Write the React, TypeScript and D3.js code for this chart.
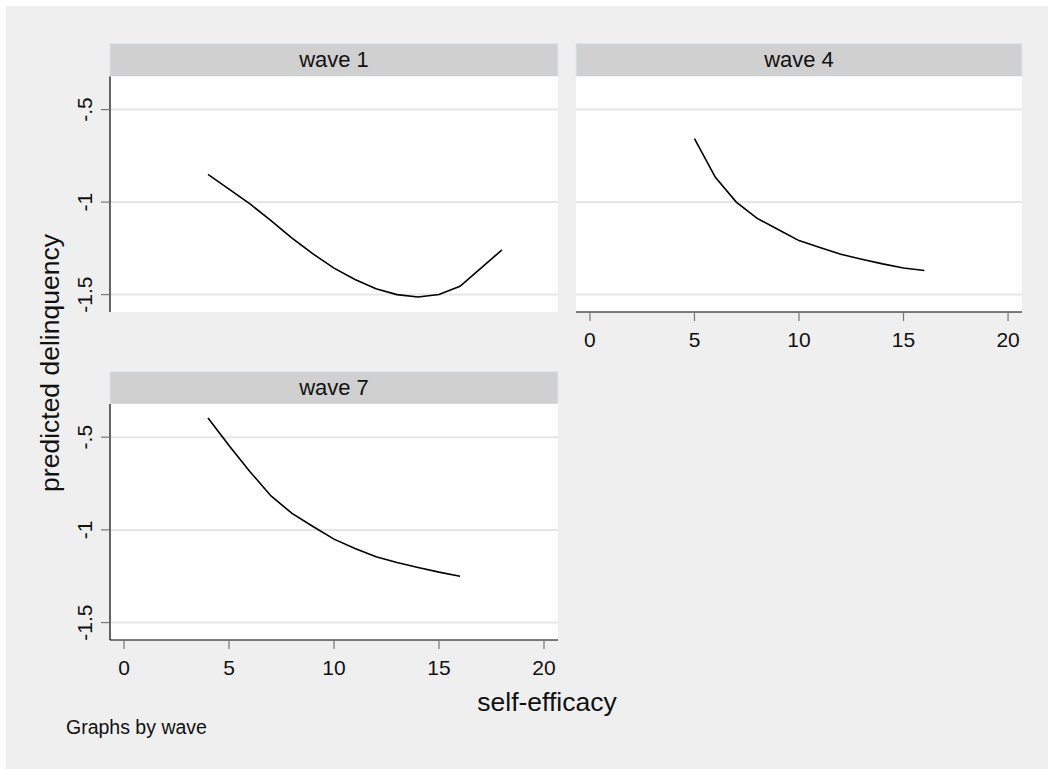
import React from 'react';
import * as d3 from 'd3';

const panelTitles = ['wave 1', 'wave 4', 'wave 7'];
const wave1X = [4, 5, 6, 7, 8, 9, 10, 11, 12, 13, 14, 15, 16, 17, 18];
const wave1Y = [-0.85, -0.93, -1.01, -1.1, -1.195, -1.28, -1.357, -1.418, -1.468, -1.5, -1.513, -1.499, -1.455, -1.357, -1.258];
const wave4X = [5, 6, 7, 8, 9, 10, 11, 12, 13, 14, 15, 16];
const wave4Y = [-0.657, -0.866, -1.0, -1.088, -1.148, -1.208, -1.245, -1.282, -1.309, -1.334, -1.356, -1.37];
const wave7X = [4, 5, 6, 7, 8, 9, 10, 11, 12, 13, 14, 15, 16];
const wave7Y = [-0.397, -0.545, -0.686, -0.817, -0.911, -0.982, -1.05, -1.1, -1.145, -1.176, -1.203, -1.228, -1.25];
const xTicks = [0, 5, 10, 15, 20];
const yTicks = [-1.5, -1, -0.5];
const yTickLabels = ['-1.5', '-1', '-.5'];
const xTitle = 'self-efficacy';
const yTitle = 'predicted delinquency';
const caption = 'Graphs by wave';

const FONT = '"Liberation Sans", Arial, Helvetica, sans-serif';

const layouts = [
  { x0: 110, x1: 558, hTop: 43.5, plotTop: 76.5, plotBottom: 312, showY: true, showX: false },
  { x0: 576, x1: 1022, hTop: 43.5, plotTop: 76.5, plotBottom: 312, showY: false, showX: true },
  { x0: 110, x1: 558, hTop: 371.7, plotTop: 404, plotBottom: 640, showY: true, showX: true },
];

const series = [
  { xs: wave1X, ys: wave1Y },
  { xs: wave4X, ys: wave4Y },
  { xs: wave7X, ys: wave7Y },
];

function Panel({ idx }: { idx: number }) {
  const L = layouts[idx];
  const s = series[idx];
  const x = d3.scaleLinear().domain([-0.667, 20.667]).range([L.x0, L.x1]);
  const y = d3.scaleLinear().domain([-1.594, -0.321]).range([L.plotBottom, L.plotTop]);
  const pts: [number, number][] = s.xs.map((v, i) => [v, s.ys[i]]);
  const line = d3.line<[number, number]>().x(d => x(d[0])).y(d => y(d[1]));
  return (
    <g>
      <rect x={L.x0} y={L.hTop} width={L.x1 - L.x0} height={L.plotTop - L.hTop}
        fill="#d0d0d0" stroke="#dce6ee" strokeWidth={1} />
      <text x={(L.x0 + L.x1) / 2} y={L.hTop + 23.5} textAnchor="middle" fontSize={22} fill="#111">
        {panelTitles[idx]}
      </text>
      <rect x={L.x0} y={L.plotTop} width={L.x1 - L.x0} height={L.plotBottom - L.plotTop} fill="#ffffff" />
      {yTicks.map(t => (
        <line key={'g' + t} x1={L.x0} x2={L.x1} y1={y(t)} y2={y(t)} stroke="#e6e6e6" strokeWidth={2} />
      ))}
      <path d={line(pts) || ''} fill="none" stroke="#000" strokeWidth={1.6} />
      {L.showY && (
        <g>
          <line x1={L.x0} x2={L.x0} y1={L.plotTop} y2={L.plotBottom} stroke="#000" strokeWidth={1.2} />
          {yTicks.map((t, i) => (
            <g key={'y' + t}>
              <line x1={L.x0 - 9} x2={L.x0} y1={y(t)} y2={y(t)} stroke="#777" strokeWidth={1.2} />
              <text transform={`translate(${L.x0 - 18},${y(t)}) rotate(-90)`} textAnchor="middle"
                fontSize={21} fill="#111">{yTickLabels[i]}</text>
            </g>
          ))}
        </g>
      )}
      {L.showX && (
        <g>
          <line x1={L.x0} x2={L.x1} y1={L.plotBottom} y2={L.plotBottom} stroke="#000" strokeWidth={1.2} />
          {xTicks.map(t => (
            <g key={'x' + t}>
              <line x1={x(t)} x2={x(t)} y1={L.plotBottom} y2={L.plotBottom + 9} stroke="#777" strokeWidth={1.2} />
              <text x={x(t)} y={L.plotBottom + 34.5} textAnchor="middle" fontSize={21} fill="#111">{t}</text>
            </g>
          ))}
        </g>
      )}
    </g>
  );
}

export default function App() {
  return (
    <div style={{ position: 'absolute', left: 0, top: 0 }}>
      <svg width={1049} height={769} style={{ display: 'block' }} fontFamily={FONT}>
        <rect x={0} y={0} width={1049} height={769} fill="#ffffff" />
        <rect x={6} y={6} width={1042} height={763} fill="#efefef" />
        {[0, 1, 2].map(i => <Panel key={i} idx={i} />)}
        <text transform="translate(59,363) rotate(-90)" textAnchor="middle" fontSize={26.5} fill="#111">{yTitle}</text>
        <text x={547} y={711} textAnchor="middle" fontSize={26.5} fill="#111">{xTitle}</text>
        <text x={66} y={734} fontSize={19.5} fill="#111">{caption}</text>
      </svg>
    </div>
  );
}
